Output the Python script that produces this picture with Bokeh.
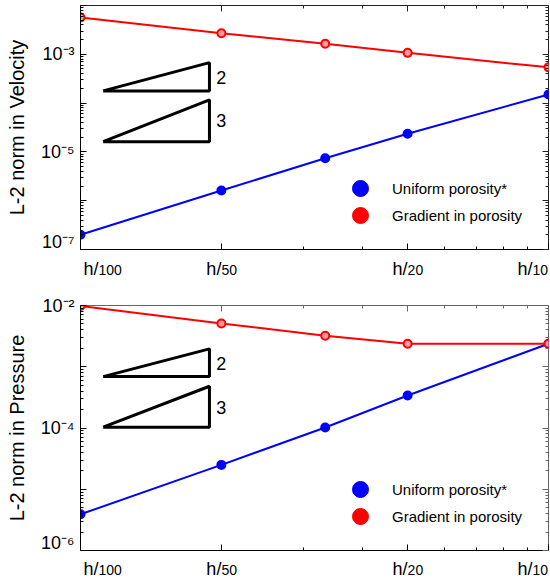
from bokeh.plotting import figure
from bokeh.models import (FixedTicker, LogAxis, CustomJSTickFormatter,
                          Legend, LegendItem, Range1d)
from bokeh.layouts import column
from bokeh.embed import file_html
from bokeh.resources import INLINE
from bokeh.core.properties import value

# ---------------- data ----------------
h_divisors = [100, 50, 30, 20, 10]
h_vals = [1.0 / d for d in h_divisors]

vel_uniform = [2.0e-7, 1.62e-6, 7.4e-6, 2.35e-5, 1.5e-4]
vel_gradient = [5.7e-3, 2.7e-3, 1.64e-3, 1.07e-3, 5.4e-4]
pres_uniform = [3.9e-6, 2.5e-5, 1.02e-4, 3.4e-4, 2.37e-3]
pres_gradient = [9.8e-3, 5.1e-3, 3.2e-3, 2.37e-3, 2.37e-3]

series_names = ["Uniform porosity*", "Gradient in porosity"]
series_colors = ["blue", "red"]

x_tick_vals = [0.01, 0.02, 0.05, 0.1]
x_tick_prefix = ["h/", "h/", "h/", "h/"]
x_tick_nums = ["100", "50", "20", "10"]
x_minor = [0.03, 0.04, 0.06, 0.07, 0.08, 0.09]

vel_y_ticks = [1e-7, 1e-6, 1e-5, 1e-4, 1e-3, 1e-2]
vel_y_labels = ["10⁻⁷", "", "10⁻⁵", "", "10⁻³", ""]
pres_y_ticks = [1e-6, 1e-5, 1e-4, 1e-3, 1e-2]
pres_y_labels = ["10⁻⁶", "", "10⁻⁴", "", "10⁻²"]

# slope indicator triangles (annotation, data units)
vel_tri2_x = [0.01118, 0.01886, 0.01886, 0.01118]
vel_tri2_y = [1.78e-4, 6.75e-4, 1.78e-4, 1.78e-4]
vel_tri3_x = [0.01118, 0.01886, 0.01886, 0.01118]
vel_tri3_y = [1.62e-5, 1.17e-4, 1.62e-5, 1.62e-5]
vel_slope_text = ["2", "3"]
vel_slope_x = [0.0195, 0.0195]
vel_slope_y = [3.28e-4, 4.37e-5]

pres_tri2_x = [0.01118, 0.01886, 0.01886, 0.01118]
pres_tri2_y = [6.9e-4, 1.96e-3, 6.9e-4, 6.9e-4]
pres_tri3_x = [0.01118, 0.01886, 0.01886, 0.01118]
pres_tri3_y = [1.03e-4, 4.8e-4, 1.03e-4, 1.03e-4]
pres_slope_text = ["2", "3"]
pres_slope_x = [0.0195, 0.0195]
pres_slope_y = [1.14e-3, 2.16e-4]

FONT = "Liberation Sans"
label_shift = [18, 0, 0, -16]
legend_offsets = [(260, 41), (260, 14)]
NAN = float("nan")


def minor_for(ticks):
    out = []
    for t in ticks[:-1]:
        for k in range(2, 10):
            out.append(t * k)
    return out


def blank_fmt():
    return CustomJSTickFormatter(code="return '';")


def make_panel(height, border_top, y_range, y_ticks, y_labels,
               ylabel, uni, grad, tri2, tri3, slope_text, slope_x, slope_y,
               outline_color):
    p = figure(width=550, height=height, x_axis_type="log", y_axis_type="log",
               x_range=(x_tick_vals[0], x_tick_vals[-1]), y_range=y_range,
               output_backend="svg", toolbar_location=None,
               min_border_left=80, min_border_right=2,
               min_border_top=border_top, min_border_bottom=2)
    p.xgrid.visible = False
    p.ygrid.visible = False
    p.outline_line_color = outline_color
    p.outline_line_width = 1

    xt = FixedTicker(ticks=x_tick_vals, minor_ticks=x_minor)
    yt = FixedTicker(ticks=y_ticks, minor_ticks=minor_for(y_ticks))

    fmt = CustomJSTickFormatter(args=dict(tvals=y_ticks, tlabels=y_labels), code="""
        const lt = Math.log10(tick);
        for (let i = 0; i < tvals.length; i++) {
            if (Math.abs(Math.log10(tvals[i]) - lt) < 1e-6) return tlabels[i];
        }
        return "";
    """)

    xa = p.xaxis[0]
    xa.ticker = xt
    xa.formatter = blank_fmt()
    xa.major_label_standoff = 0
    ya = p.yaxis[0]
    ya.ticker = yt
    ya.formatter = fmt
    ya.major_label_text_font = FONT
    ya.major_label_text_font_size = "18px"
    ya.major_label_text_color = "black"
    ya.major_label_standoff = 6
    ya.axis_label = ylabel
    ya.axis_label_text_font = FONT
    ya.axis_label_text_font_size = "20px"
    ya.axis_label_text_font_style = "normal"
    ya.axis_label_text_color = "black"
    ya.axis_label_standoff = 10
    for ax in (xa, ya):
        ax.axis_line_color = "black"
        ax.major_tick_in = 6
        ax.major_tick_out = 0
        ax.minor_tick_in = 3
        ax.minor_tick_out = 0
        ax.major_tick_line_color = "black"
        ax.minor_tick_line_color = "black"

    top_ax = LogAxis(ticker=xt, formatter=blank_fmt(),
                     major_label_standoff=0, axis_line_color=None,
                     major_tick_in=6, major_tick_out=0,
                     minor_tick_in=3, minor_tick_out=0,
                     major_tick_line_color=outline_color,
                     minor_tick_line_color=outline_color)
    right_ax = LogAxis(ticker=yt, formatter=blank_fmt(),
                       major_label_standoff=0, axis_line_color=None,
                       major_tick_in=6, major_tick_out=0,
                       minor_tick_in=3, minor_tick_out=0,
                       major_tick_line_color=outline_color,
                       minor_tick_line_color=outline_color)
    p.add_layout(top_ax, "above")
    p.add_layout(right_ax, "right")

    # slope triangles
    for tx, ty in (tri2, tri3):
        p.line(tx, ty, line_color="black", line_width=3)
    p.text(x=slope_x, y=slope_y, text=slope_text, text_font=value(FONT),
           text_font_size="18px", text_align="left", text_baseline="middle",
           text_color="black")

    # data
    fills = ["blue", "#ff9c9c"]
    for vals, col, fc in zip((uni, grad), series_colors, fills):
        p.line(h_vals, vals, line_color=col, line_width=2)
        p.scatter(h_vals, vals, marker="circle", size=8, line_color=col,
                  line_width=2, fill_color=fc)

    # legend (marker-only entries, one legend box per entry)
    for name, col, loc in zip(series_names, series_colors, legend_offsets):
        r = p.scatter(x=[NAN], y=[NAN], marker="circle", size=16,
                      fill_color=col, line_color=col)
        lg = Legend(items=[LegendItem(label=name, renderers=[r])],
                    location=loc, glyph_width=40, glyph_height=40,
                    label_standoff=12, padding=0, margin=0,
                    border_line_color=None, background_fill_alpha=0,
                    label_text_font=FONT, label_text_font_size="15px",
                    label_text_color="black")
        p.add_layout(lg)
    return p


def make_tick_strip(x_range, height, ypos):
    s = figure(width=550, height=height, x_axis_type="log", x_range=x_range,
               y_range=Range1d(0, height), output_backend="svg",
               toolbar_location=None, min_border_left=80, min_border_right=2,
               min_border_top=0, min_border_bottom=0, title=None,
               x_axis_location=None, y_axis_location=None)
    s.grid.visible = False
    s.outline_line_color = None
    ys = [ypos] * len(x_tick_vals)
    s.text(x=x_tick_vals, y=ys, text=x_tick_prefix, x_offset=label_shift,
           text_align="right", text_baseline="middle",
           text_font=value(FONT), text_font_size="18px", text_color="black")
    s.text(x=x_tick_vals, y=[v - 1 for v in ys], text=x_tick_nums,
           x_offset=label_shift, text_align="left", text_baseline="middle",
           text_font=value(FONT), text_font_size="14px", text_color="black")
    return s


p1 = make_panel(251, 5, (1e-7, 1e-2), vel_y_ticks, vel_y_labels,
                "L-2 norm in Velocity", vel_uniform, vel_gradient,
                (vel_tri2_x, vel_tri2_y), (vel_tri3_x, vel_tri3_y),
                vel_slope_text, vel_slope_x, vel_slope_y, "#222222")
s1 = make_tick_strip(p1.x_range, 39, 39 - 17)
p2 = make_panel(262, 15, (1e-6, 1e-2), pres_y_ticks, pres_y_labels,
                "L-2 norm in Pressure", pres_uniform, pres_gradient,
                (pres_tri2_x, pres_tri2_y), (pres_tri3_x, pres_tri3_y),
                pres_slope_text, pres_slope_x, pres_slope_y, "#666666")
s2 = make_tick_strip(p2.x_range, 27, 27 - 16)

layout = column(p1, s1, p2, s2, spacing=0)
open("out.html", "w").write(file_html(layout, INLINE))
